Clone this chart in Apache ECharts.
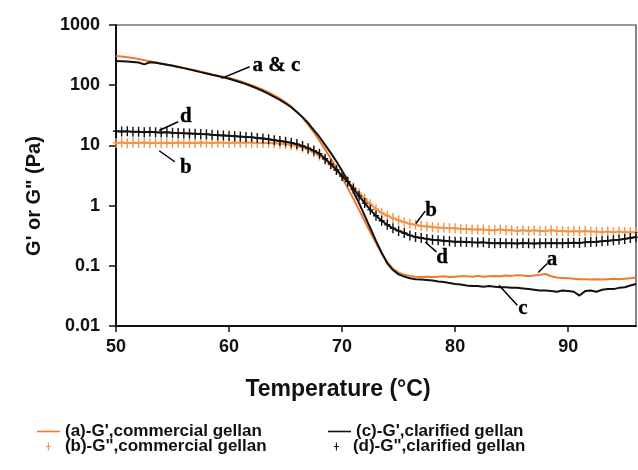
<!DOCTYPE html>
<html>
<head>
<meta charset="utf-8">
<script src="https://cdn.jsdelivr.net/npm/echarts@6/dist/echarts.min.js"></script>
<style>
  html, body { margin: 0; padding: 0; background: #fff; }
  #chart { width: 638px; height: 470px; }
</style>
</head>
<body>
<div id="chart"></div>
<script>
// Temperature sweep (°C)
const temps = [
  50, 50.5, 51, 51.5, 52, 52.5, 53, 53.5, 54, 54.5,
  55, 55.5, 56, 56.5, 57, 57.5, 58, 58.5, 59, 59.5,
  60, 60.5, 61, 61.5, 62, 62.5, 63, 63.5, 64, 64.5,
  65, 65.5, 66, 66.5, 67, 67.5, 68, 68.5, 69, 69.5,
  70, 70.5, 71, 71.5, 72, 72.5, 73, 73.5, 74, 74.5,
  75, 75.5, 76, 76.5, 77, 77.5, 78, 78.5, 79, 79.5,
  80, 80.5, 81, 81.5, 82, 82.5, 83, 83.5, 84, 84.5,
  85, 85.5, 86, 86.5, 87, 87.5, 88, 88.5, 89, 89.5,
  90, 90.5, 91, 91.5, 92, 92.5, 93, 93.5, 94, 94.5,
  95, 95.5, 96
];

// (a) G', commercial gellan (Pa)
const gPrimeCommercial = [
  306, 300, 292, 283, 272, 260, 250, 240, 230, 221,
  212, 203, 194, 185, 176, 167, 159, 151, 144, 138,
  132, 124, 116, 108, 100, 92, 84, 76, 68, 60,
  52, 44, 36, 29, 22, 16.5, 12, 8.6, 6.0, 4.2,
  2.9, 1.95, 1.3, 0.85, 0.55, 0.36, 0.24, 0.16, 0.115, 0.09,
  0.077, 0.071, 0.068, 0.066, 0.065, 0.066, 0.065, 0.066, 0.067, 0.065,
  0.066, 0.067, 0.067, 0.066, 0.068, 0.066, 0.067, 0.068, 0.067, 0.069,
  0.068, 0.07, 0.069, 0.067, 0.069, 0.071, 0.073, 0.067, 0.064, 0.063,
  0.062, 0.061, 0.06, 0.06, 0.059, 0.06, 0.059, 0.06, 0.061, 0.06,
  0.061, 0.062, 0.064
];

// (b) G'', commercial gellan (Pa)
const gDoublePrimeCommercial = [
  11.0, 11.2, 10.9, 11.1, 11.0, 11.2, 10.9, 11.1, 11.0, 11.1,
  10.9, 11.2, 11.0, 11.1, 11.0, 11.2, 11.1, 11.0, 11.2, 11.1,
  11.0, 11.2, 11.1, 11.2, 11.1, 11.0, 11.1, 11.0, 10.9, 10.7,
  10.5, 10.2, 9.8, 9.2, 8.5, 7.7, 6.8, 5.8, 4.8, 3.9,
  3.1, 2.5, 2.0, 1.6, 1.3, 1.05, 0.88, 0.76, 0.68, 0.62,
  0.57, 0.53, 0.5, 0.48, 0.46, 0.45, 0.44, 0.43, 0.43, 0.42,
  0.42, 0.41, 0.41, 0.4, 0.4, 0.4, 0.39, 0.39, 0.4, 0.39,
  0.39, 0.38, 0.39, 0.38, 0.39, 0.38, 0.38, 0.39, 0.38, 0.38,
  0.37, 0.38, 0.37, 0.38, 0.37, 0.37, 0.36, 0.37, 0.36, 0.37,
  0.36, 0.36, 0.36
];

// (c) G', clarified gellan (Pa)
const gPrimeClarified = [
  253, 250, 247, 243, 238, 222, 240, 236, 228, 219,
  210, 201, 192, 183, 174, 165, 157, 149, 142, 135,
  128, 120, 112, 104, 96, 88, 80, 72, 64, 57,
  50, 43, 36, 29.5, 23.5, 18, 13.8, 10.2, 7.5, 5.4,
  3.8, 2.6, 1.7, 1.1, 0.68, 0.42, 0.26, 0.165, 0.11, 0.085,
  0.072, 0.066, 0.062, 0.06, 0.059, 0.058, 0.057, 0.055, 0.054, 0.052,
  0.05, 0.049, 0.047, 0.046, 0.046, 0.045, 0.046, 0.045, 0.044, 0.044,
  0.043, 0.043, 0.042, 0.041, 0.04, 0.039, 0.039, 0.038, 0.037, 0.039,
  0.038, 0.037, 0.032, 0.038, 0.039, 0.037, 0.04, 0.041, 0.041, 0.043,
  0.044, 0.047, 0.05
];

// (d) G'', clarified gellan (Pa)
const gDoublePrimeClarified = [
  17.2, 17.0, 17.1, 16.8, 16.9, 16.6, 16.8, 16.5, 16.4, 16.5,
  16.2, 16.0, 15.9, 15.8, 15.6, 15.4, 15.3, 15.0, 14.8, 14.6,
  14.4, 14.2, 14.0, 13.8, 13.6, 13.3, 13.0, 12.6, 12.2, 11.8,
  11.5, 11.1, 10.5, 9.8, 9.0, 8.2, 7.3, 6.0, 4.9, 3.9,
  3.1, 2.5, 1.9, 1.45, 1.1, 0.85, 0.68, 0.56, 0.48, 0.42,
  0.38, 0.35, 0.32, 0.3, 0.29, 0.28, 0.27, 0.265, 0.26, 0.255,
  0.25, 0.252, 0.248, 0.245, 0.243, 0.245, 0.24, 0.238, 0.24, 0.236,
  0.238, 0.235, 0.24, 0.236, 0.235, 0.238, 0.236, 0.24, 0.238, 0.236,
  0.24, 0.242, 0.24, 0.245, 0.248, 0.25, 0.255, 0.26, 0.265, 0.272,
  0.28, 0.29, 0.3
];

const seriesNames = [
  "(a)-G',commercial gellan",
  "(b)-G\",commercial gellan",
  "(c)-G',clarified gellan",
  "(d)-G\",clarified gellan"
];

const xTicks = [50, 60, 70, 80, 90];
const yTickLabels = ['0.01', '0.1', '1', '10', '100', '1000'];

// Curve labels: text, label anchor [T, value], leader line from/to [T, value]
const noteTexts = ['a & c', 'd', 'b', 'b', 'd', 'a', 'c'];
const noteAnchors = [[64.2, 209], [56.18, 29.6], [56.18, 4.36], [77.88, 0.84], [78.85, 0.139], [88.56, 0.1285], [86.0, 0.0197]];
const leaderFrom = [[59.33, 130], [53.82, 17.7], [53.82, 8.15], [76.53, 0.505], [77.35, 0.249], [87.35, 0.0773], [83.88, 0.0475]];
const leaderTo = [[61.82, 203], [55.5, 24.7], [55.2, 5.35], [77.35, 0.81], [78.35, 0.170], [88.15, 0.109], [85.5, 0.0221]];

const SANS = '"Liberation Sans", Arial, Helvetica, sans-serif';
const SERIF = '"Liberation Serif", "Times New Roman", serif';
const ORANGE = '#ee7a2c';
const ORANGE_LIGHT = '#f3934a';
const BLACK = '#111111';

// plus-shaped marker drawn as a filled outline (6 x 10 box)
const plusPath = 'path://M2.3,0H3.7V4.3H6V5.7H3.7V10H2.3V5.7H0V4.3H2.3Z';
const dashPath = 'path://M0,0H23V1.6H0Z';

const pairs = ys => temps.map((t, i) => [t, ys[i]]);

const legendText = { fontFamily: SANS, fontWeight: 'bold', fontSize: 17, color: BLACK };
function legendLine(name, left, top) {
  return {
    data: [{ name: name, icon: dashPath }],
    left: left, top: top, padding: 0,
    itemWidth: 23, itemHeight: 8, itemGap: 0,
    selectedMode: false,
    textStyle: legendText
  };
}
function legendPlus(name, left, top) {
  return {
    data: [{ name: name, icon: plusPath }],
    left: left, top: top, padding: 0,
    itemWidth: 5, itemHeight: 8, itemGap: 0,
    selectedMode: false,
    textStyle: Object.assign({ padding: [0, 0, 0, 9] }, legendText)
  };
}

// leader lines, one small line series each
const leaderSeries = leaderFrom.map((p, i) => ({
  name: 'leader' + i, type: 'line', data: [p, leaderTo[i]],
  symbol: 'none', silent: true, z: 9,
  lineStyle: { color: '#000', width: 1.5 },
  emphasis: { disabled: true }
}));

const chart = echarts.init(document.getElementById('chart'), null, { renderer: 'canvas' });
chart.setOption({
  animation: false,
  backgroundColor: '#ffffff',
  grid: {
    left: 116, right: 2, top: 25, bottom: 144,
    show: true, borderColor: '#333', borderWidth: 1.2
  },
  legend: [
    legendLine(seriesNames[0], 37, 423),
    legendPlus(seriesNames[1], 46, 438),
    legendLine(seriesNames[2], 328, 423),
    legendPlus(seriesNames[3], 334, 438)
  ],
  xAxis: {
    type: 'value', min: 50, max: 96, interval: 10,
    name: 'Temperature (°C)', nameLocation: 'middle', nameGap: 52,
    nameTextStyle: { fontFamily: SANS, fontWeight: 'bold', fontSize: 23, color: BLACK, padding: [0, 76, 0, 0] },
    axisLine: { show: true, lineStyle: { color: BLACK, width: 2 } },
    axisTick: { show: true, length: 6, customValues: xTicks, lineStyle: { color: BLACK, width: 1.5 } },
    axisLabel: { customValues: xTicks, fontFamily: SANS, fontWeight: 'bold', fontSize: 18, color: BLACK, margin: 12 },
    splitLine: { show: false }
  },
  yAxis: {
    type: 'log', logBase: 10, min: 0.01, max: 1000,
    name: "G' or G\" (Pa)", nameLocation: 'middle', nameGap: 72,
    nameTextStyle: { fontFamily: SANS, fontWeight: 'bold', fontSize: 20, color: BLACK, padding: [0, 41, 0, 0] },
    axisLine: { show: true, lineStyle: { color: BLACK, width: 2 } },
    axisTick: { show: true, length: 7, lineStyle: { color: BLACK, width: 1.5 } },
    axisLabel: {
      fontFamily: SANS, fontWeight: 'bold', fontSize: 18, color: BLACK, margin: 16,
      formatter: v => yTickLabels[Math.round(Math.log10(v)) + 2]
    },
    splitLine: { show: false },
    minorTick: { show: false }
  },
  series: [
    {
      name: seriesNames[0], type: 'line', data: pairs(gPrimeCommercial),
      symbol: 'none', itemStyle: { color: ORANGE },
      lineStyle: { color: ORANGE, width: 2 }, z: 2
    },
    {
      name: seriesNames[2], type: 'line', data: pairs(gPrimeClarified),
      symbol: 'none', itemStyle: { color: BLACK },
      lineStyle: { color: BLACK, width: 2 }, z: 3
    },
    {
      name: seriesNames[1], type: 'line', data: pairs(gDoublePrimeCommercial),
      symbol: plusPath, symbolSize: [6, 10], symbolKeepAspect: false,
      itemStyle: { color: ORANGE_LIGHT },
      lineStyle: { color: ORANGE_LIGHT, width: 2 }, z: 4
    },
    {
      name: seriesNames[3], type: 'line', data: pairs(gDoublePrimeClarified),
      symbol: plusPath, symbolSize: [6, 10], symbolKeepAspect: false,
      itemStyle: { color: BLACK },
      lineStyle: { color: BLACK, width: 2 }, z: 5
    },
    {
      name: 'notes', type: 'scatter', z: 10, silent: true,
      symbolSize: 1, itemStyle: { color: '#fff', opacity: 0 },
      data: noteTexts.map((t, i) => ({ name: t, value: noteAnchors[i] })),
      label: {
        show: true, position: 'inside', formatter: '{b}', opacity: 1,
        fontFamily: SERIF, fontWeight: 'bold', fontSize: 21, color: '#000',
        textBorderColor: '#000', textBorderWidth: 0.3
      }
    }
  ].concat(leaderSeries)
});
</script>
</body>
</html>
